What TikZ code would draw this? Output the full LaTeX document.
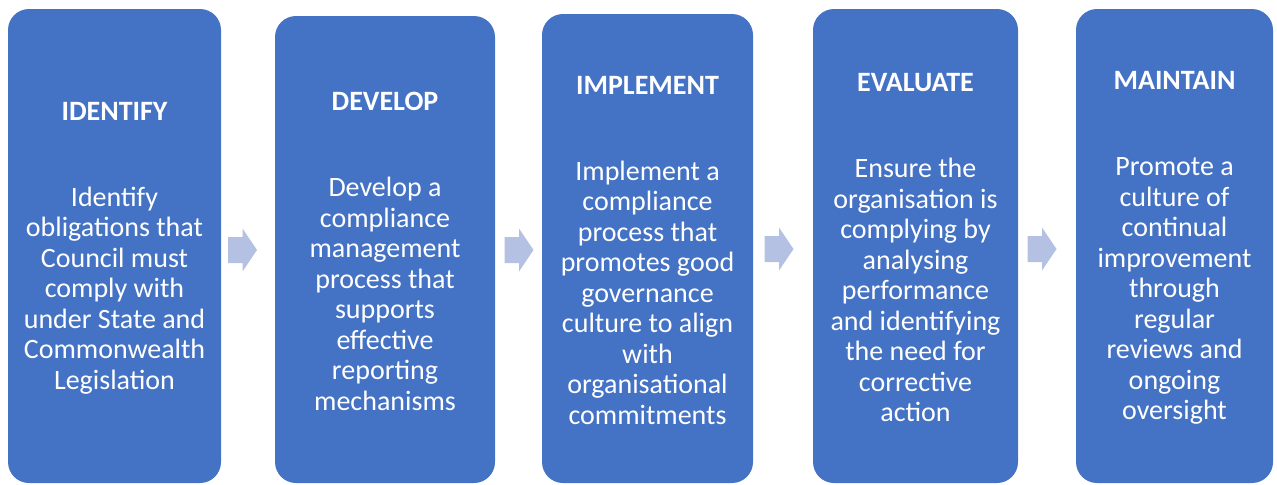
\documentclass[tikz,border=0pt]{standalone}
\usepackage{fontspec}
\setmainfont{Carlito}
\definecolor{stageblue}{RGB}{68,114,196}
\definecolor{arrowblue}{RGB}{180,193,226}
\tikzset{
	stage/.style={fill=stageblue, rounded corners=10.5pt},
	stagetext/.style={text=white, align=center, font=\fontsize{14}{15.25}\selectfont},
	stagearrow/.pic={
		\fill[arrowblue] (-14.5,-13) -- (0,-13) -- (0,-21.5) -- (14.5,0)
		-- (0,21.5) -- (0,13) -- (-14.5,13) -- cycle;
	}
}
\newcommand{\stagetitle}[1]{{\bfseries #1}\\[27.75pt]}
\begin{document}
\begin{tikzpicture}[x=0.5pt, y=-0.5pt]
	\useasboundingbox (0,0) rectangle (1277,484);

	% the five stages
	\fill[stage] (8,9) rectangle (221,483);
	\coordinate (identify) at (114.5,248);
	\fill[stage] (275,16) rectangle (495,483);
	\coordinate (develop) at (385,251.5);
	\fill[stage] (542,14) rectangle (753,483);
	\coordinate (implement) at (647.5,250.5);
	\fill[stage] (813,9) rectangle (1018,483);
	\coordinate (evaluate) at (915.5,248);
	\fill[stage] (1076,9) rectangle (1273,483);
	\coordinate (maintain) at (1174.5,248);

	\node[stagetext] (identifytext) at (identify) {\stagetitle{IDENTIFY}
		Identify\\obligations that\\Council must\\comply with\\under State and\\Commonwealth\\Legislation};
	\node[stagetext] (developtext) at (develop) {\stagetitle{DEVELOP}
		Develop a\\compliance\\management\\process that\\supports\\effective\\reporting\\mechanisms};
	\node[stagetext] (implementtext) at (implement) {\stagetitle{IMPLEMENT}
		Implement a\\compliance\\process that\\promotes good\\governance\\culture to align\\with\\organisational\\commitments};
	\node[stagetext] (evaluatetext) at (evaluate) {\stagetitle{EVALUATE}
		Ensure the\\organisation is\\complying by\\analysing\\performance\\and identifying\\the need for\\corrective\\action};
	\node[stagetext] (maintaintext) at (maintain) {\stagetitle{MAINTAIN}
		Promote a\\culture of\\continual\\improvement\\through\\regular\\reviews and\\ongoing\\oversight};

	% arrows between stages
	\pic at (242.5,250) {stagearrow};
	\pic at (519,250) {stagearrow};
	\pic at (779,249) {stagearrow};
	\pic at (1042,249) {stagearrow};
\end{tikzpicture}
\end{document}
